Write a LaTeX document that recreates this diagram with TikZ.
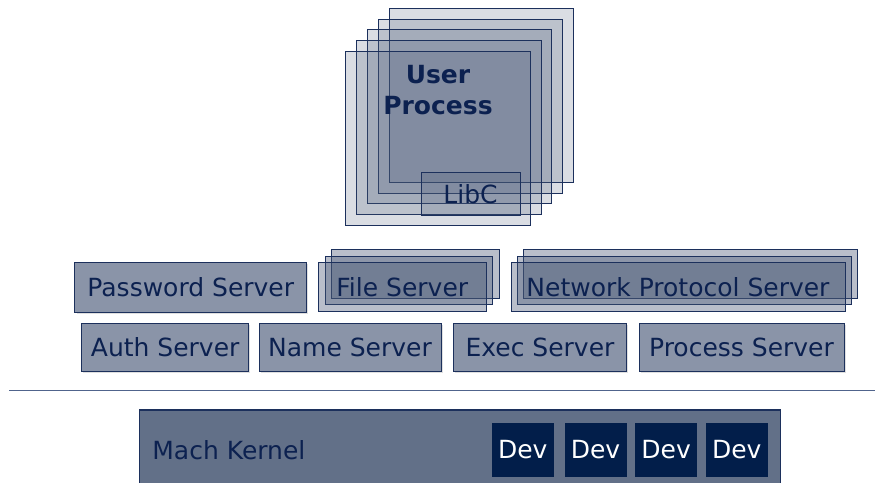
\documentclass[tikz,border=0pt]{standalone}
\usepackage{fontspec}
\setmainfont{DejaVu Sans}
\usepackage{tikz}
\usetikzlibrary{positioning,shadows}
\definecolor{navy}{RGB}{12,33,80}
\definecolor{edge}{RGB}{28,48,92}
\definecolor{boxfill}{RGB}{138,148,168}
\definecolor{layerfill}{RGB}{70,85,115}
\definecolor{kernfill}{RGB}{98,112,136}
\definecolor{devfill}{RGB}{2,30,74}
\definecolor{rule}{RGB}{80,100,140}

\begin{document}
\begin{tikzpicture}[x=0.5pt,y=-0.5pt,
  font=\fontsize{12.5}{15.5}\selectfont,
  srvbox/.style={draw=edge,line width=0.5pt,fill=boxfill,text=navy,inner sep=0pt,
    drop shadow={shadow xshift=0.8pt,shadow yshift=-0.8pt,opacity=0.25}},
  layer/.style={draw=edge,line width=0.5pt,fill=layerfill,fill opacity=0.38,inner sep=0pt},
  proclayer/.style={layer,fill opacity=0.2},
  devbox/.style={fill=devfill,text=white,inner sep=0pt,minimum width=31pt,minimum height=27pt},
  label/.style={text=navy,inner sep=0pt}]
  \useasboundingbox (0,0) rectangle (875,483);
  \clip (0,0) rectangle (875,483);
  \draw[rule,line width=0.6pt] (9,390.7) -- (875,390.7); % ユーザ空間とカーネルの境界線
  \node[draw=edge,line width=0.6pt,fill=kernfill,minimum width=320.7pt,minimum height=40pt] (mach) at (460,450) {}; % カーネル本体（下端は画面外まではみ出す）
  \node[label,anchor=west] (machtxt) at (152,450) {Mach Kernel};
  \foreach \x [count=\i] in {522.8,595.5,666.2,736.8}
    \node[devbox] (dev\i) at (\x,449.5) {Dev}; % デバイスドライバ
  \node[srvbox,minimum width=115.9pt,minimum height=24.8pt] (pwd) at (190.8,287.5) {Password Server};
  \node[srvbox,minimum width=83.5pt,minimum height=24.2pt] (auth) at (165.2,347.5) {Auth Server};
  \node[srvbox,minimum width=91pt,minimum height=24.2pt] (name) at (350,347.5) {Name Server};
  \node[srvbox,minimum width=86.7pt,minimum height=24.2pt] (exec) at (540,347.5) {Exec Server};
  \node[srvbox,minimum width=102.5pt,minimum height=24.2pt] (proc) at (741.5,347.5) {Process Server};
  \foreach \i in {2,1,0}
    \node[layer,minimum width=83.7pt,minimum height=24.3pt] (file\i) at (402.3+6.5*\i,287-6.5*\i) {}; % 複数動くファイルサーバを重ねて表す
  \node[label] (filetxt) at (file0) {File Server};
  \foreach \i in {2,1,0}
    \node[layer,minimum width=167pt,minimum height=24.4pt] (net\i) at (678+6.3*\i,286.7-6.2*\i) {}; % ネットワークプロトコルサーバも同様に重ねる
  \node[label] (nettxt) at (net0) {Network Protocol Server};
  \foreach \i in {4,3,2,1,0}
    \node[proclayer,minimum width=92.2pt,minimum height=87pt] (user\i) at (437.9+10.9*\i,138.7-10.9*\i) {}; % ユーザプロセスを5枚重ねる
  \node[proclayer,minimum width=49.5pt,minimum height=21.2pt] (libc) at (470.5,193.8) {};
  \node[label] (libctxt) at (libc) {LibC};
  \node[label,font=\fontsize{12.5}{15.5}\selectfont\bfseries,align=center] (usertxt) at (438,90) {User\\Process};
\end{tikzpicture}
\end{document}
